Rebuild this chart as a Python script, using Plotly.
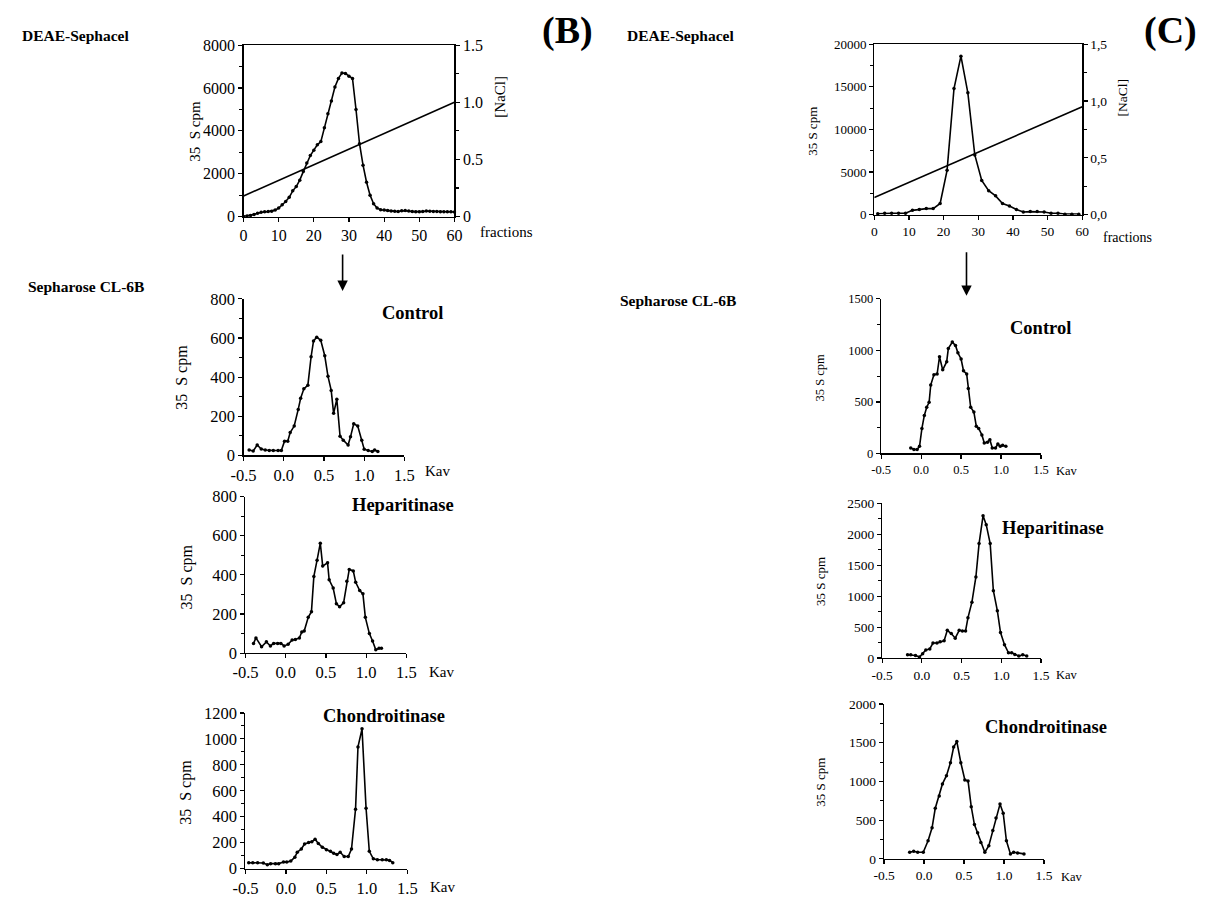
import plotly.graph_objects as go

W, H = 1208, 905
FONT = "Liberation Serif, Times New Roman, Times, serif"

# ---------------- DATA ----------------
# (B) DEAE-Sephacel
b_deae_frac = list(range(0, 61))
b_deae_cpm = [0, 30, 50, 100, 150, 200, 220, 230, 250, 300, 400,
              550, 700, 900, 1200, 1400, 1700, 2100, 2500, 2850, 3100,
              3350, 3500, 4150, 4800, 5400, 6050, 6450, 6700, 6680, 6550,
              6450, 5000, 3400, 2400, 1600, 1000, 600, 400, 320, 300,
              280, 260, 250, 230, 270, 280, 260, 230, 220, 220,
              230, 260, 250, 240, 230, 220, 220, 220, 220, 210]
nacl_frac = [0, 60]
b_nacl = [0.18, 1.0]

# (C) DEAE-Sephacel
c_deae_frac = [1, 3, 5, 7, 9, 11, 13, 15, 17, 19, 21, 23, 25, 27, 29,
               31, 33, 35, 37, 39, 41, 43, 45, 47, 49, 51, 53, 55, 57, 59]
c_deae_cpm = [100, 150, 150, 150, 150, 500, 600, 700, 700, 1300, 5200, 14800, 18600, 14300, 7000,
              4000, 2800, 2200, 1300, 1000, 600, 300, 350, 350, 300, 150, 150, 50, 50, 50]
c_nacl = [0.15, 0.95]

# (B) Sepharose CL-6B
b_ctrl_kav = [-0.43, -0.38, -0.33, -0.28, -0.23, -0.18, -0.13, -0.07, -0.03, 0.01, 0.05, 0.08, 0.13,
              0.18, 0.21, 0.25, 0.30, 0.34, 0.37, 0.41, 0.46, 0.51, 0.55, 0.59, 0.62, 0.66, 0.70,
              0.74, 0.80, 0.83, 0.87, 0.92, 0.97, 1.00, 1.05, 1.10, 1.13, 1.17]
b_ctrl_cpm = [28, 23, 53, 33, 28, 25, 25, 25, 25, 73, 73, 117, 150,
              235, 292, 340, 359, 504, 584, 604, 588, 509, 404, 332, 215, 287, 98,
              78, 53, 95, 162, 150, 77, 32, 25, 20, 28, 20]

b_hep_kav = [-0.40, -0.37, -0.30, -0.24, -0.19, -0.15, -0.10, -0.06, -0.02, 0.03, 0.08, 0.12, 0.17,
             0.20, 0.23, 0.28, 0.32, 0.35, 0.39, 0.43, 0.46, 0.52, 0.54, 0.59, 0.63, 0.67, 0.72,
             0.76, 0.79, 0.84, 0.87, 0.92, 0.96, 0.99, 1.04, 1.08, 1.12, 1.16, 1.19]
b_hep_cpm = [50, 78, 33, 58, 37, 50, 50, 50, 37, 45, 67, 70, 78,
             108, 113, 183, 212, 392, 475, 562, 445, 462, 375, 333, 253, 237, 258,
             367, 428, 420, 362, 320, 303, 183, 100, 62, 17, 25, 25]

b_chon_kav = [-0.46, -0.41, -0.35, -0.28, -0.23, -0.19, -0.13, -0.09, -0.03, 0.01, 0.06, 0.11, 0.14,
              0.19, 0.23, 0.28, 0.32, 0.36, 0.40, 0.45, 0.50, 0.55, 0.59, 0.63, 0.67, 0.72, 0.77,
              0.81, 0.86, 0.89, 0.94, 0.99, 1.03, 1.08, 1.13, 1.19, 1.24, 1.28, 1.32]
b_chon_cpm = [45, 45, 45, 43, 30, 38, 38, 38, 50, 50, 58, 88, 126,
              151, 189, 201, 206, 226, 194, 164, 146, 133, 118, 108, 126, 93, 93,
              151, 458, 938, 1077, 465, 133, 75, 68, 68, 68, 63, 45]

# (C) Sepharose CL-6B
c_ctrl_kav = [-0.13, -0.09, -0.05, -0.02, 0.01, 0.04, 0.07, 0.10, 0.12, 0.16, 0.20, 0.23, 0.27,
              0.32, 0.34, 0.39, 0.43, 0.46, 0.50, 0.53, 0.57, 0.59, 0.62, 0.66, 0.69, 0.72,
              0.76, 0.79, 0.83, 0.86, 0.89, 0.93, 0.96, 0.99, 1.02, 1.06]
c_ctrl_cpm = [54, 38, 38, 69, 243, 369, 448, 496, 663, 764, 770, 938, 811,
              890, 1017, 1080, 1048, 976, 916, 802, 770, 631, 448, 401, 265, 243,
              180, 101, 110, 133, 54, 54, 92, 69, 79, 69]

c_hep_kav = [-0.18, -0.14, -0.08, -0.03, 0.01, 0.05, 0.10, 0.14, 0.19, 0.23, 0.28, 0.32, 0.37,
             0.42, 0.47, 0.51, 0.55, 0.58, 0.63, 0.68, 0.72, 0.77, 0.81, 0.86, 0.90, 0.95,
             0.99, 1.04, 1.09, 1.13, 1.17, 1.22, 1.27, 1.32]
c_hep_cpm = [53, 53, 42, 16, 69, 132, 148, 243, 243, 264, 280, 449, 396,
             322, 449, 439, 439, 650, 904, 1311, 1850, 2299, 2156, 1850, 1089, 766,
             412, 217, 85, 85, 58, 32, 53, 32]

c_chon_kav = [-0.18, -0.13, -0.08, -0.01, 0.05, 0.10, 0.14, 0.19, 0.23, 0.28, 0.33, 0.37, 0.41,
              0.46, 0.51, 0.55, 0.59, 0.63, 0.67, 0.71, 0.76, 0.81, 0.86, 0.90, 0.95, 0.99,
              1.03, 1.08, 1.12, 1.17, 1.25]
c_chon_cpm = [84, 97, 84, 84, 232, 400, 653, 813, 968, 1074, 1242, 1444, 1516,
              1242, 1019, 1006, 674, 442, 337, 211, 84, 168, 366, 526, 707, 589,
              232, 63, 84, 76, 63]

kav_ticks = [-0.5, 0.0, 0.5, 1.0, 1.5]
kav_text = ["-0.5", "0.0", "0.5", "1.0", "1.5"]
frac_ticks = [0, 10, 20, 30, 40, 50, 60]
b_cpm_ticks = [0, 2000, 4000, 6000, 8000]
c_cpm_ticks = [0, 5000, 10000, 15000, 20000]
nacl_ticks = [0, 0.5, 1.0, 1.5]
b_nacl_text = ["0", "0.5", "1.0", "1.5"]
c_nacl_text = ["0,0", "0,5", "1,0", "1,5"]

# ---------------- LAYOUT HELPERS ----------------
def xd(a, b):
    return [a / W, b / W]


def yd(top, bot):
    return [1 - bot / H, 1 - top / H]


def px(x):
    return x / W


def py(y):
    return 1 - y / H


def axis_style(size, **kw):
    d = dict(showline=True, linecolor="black", linewidth=1.3, ticks="outside",
             ticklen=4, tickwidth=1.2, tickcolor="black", showgrid=False,
             zeroline=False, tickfont=dict(family=FONT, size=size, color="black"),
             fixedrange=True)
    d.update(kw)
    return d


fig = go.Figure()
layout = dict(width=W, height=H, margin=dict(l=0, r=0, t=0, b=0),
              paper_bgcolor="white", plot_bgcolor="white", showlegend=False,
              font=dict(family=FONT, color="black"))

line_style = dict(color="black", width=1.6)
marker_style = dict(color="black", size=3.5)


def add_series(xs, ys, n, yref=None, markers=True):
    xr = "x" if n == 1 else f"x{n}"
    yr = yref if yref else ("y" if n == 1 else f"y{n}")
    fig.add_trace(go.Scatter(x=xs, y=ys, xaxis=xr, yaxis=yr,
                             mode="lines+markers" if markers else "lines",
                             line=line_style, marker=marker_style,
                             hoverinfo="skip", cliponaxis=False))


def key(prefix, n):
    return prefix if n == 1 else f"{prefix}{n}"


def minor(dt):
    return dict(dtick=dt, ticks="outside", ticklen=3, tickcolor="black", tick0=0)


# panel 1: B DEAE
layout["xaxis"] = axis_style(16, domain=xd(235, 450), range=[0, 60], tickvals=frac_ticks,
                             anchor="y", mirror=True)
layout["yaxis"] = axis_style(16, domain=yd(37, 212), range=[0, 8000], tickvals=b_cpm_ticks,
                             ticktext=[str(v) for v in b_cpm_ticks], anchor="x", minor=minor(1000))
layout["yaxis9"] = axis_style(16, range=[0, 1.5], tickvals=nacl_ticks, ticktext=b_nacl_text,
                              overlaying="y", side="right", anchor="x", minor=minor(0.25))
add_series(b_deae_frac, b_deae_cpm, 1)
add_series(nacl_frac, b_nacl, 1, yref="y9", markers=False)

# panel 2: C DEAE
layout["xaxis2"] = axis_style(13.5, domain=xd(878, 1090), range=[0, 60], tickvals=frac_ticks,
                              anchor="y2", mirror=True)
layout["yaxis2"] = axis_style(13, domain=yd(36, 210), range=[0, 20000], tickvals=c_cpm_ticks,
                              ticktext=[str(v) for v in c_cpm_ticks], anchor="x2", minor=minor(2500))
layout["yaxis10"] = axis_style(13.5, range=[0, 1.5], tickvals=nacl_ticks, ticktext=c_nacl_text,
                               overlaying="y2", side="right", anchor="x2", minor=minor(0.25))
add_series(c_deae_frac, c_deae_cpm, 2)
add_series(nacl_frac, c_nacl, 2, yref="y10", markers=False)

# Sepharose panels
sep = [
    # n, xdom, ydom(top,bot), ymax, dtick, minor, fontsize, data
    (3, (235, 399), (296, 456), 800, 200, 100, 16.5, b_ctrl_kav, b_ctrl_cpm),
    (4, (237, 401), (498, 658), 800, 200, 100, 16.5, b_hep_kav, b_hep_cpm),
    (5, (237, 402), (719, 878), 1200, 200, 100, 16.5, b_chon_kav, b_chon_cpm),
    (6, (885, 1048), (296, 454), 1500, 500, 250, 12.5, c_ctrl_kav, c_ctrl_cpm),
    (7, (886, 1048), (505, 663), 2500, 500, 250, 13.5, c_hep_kav, c_hep_cpm),
    (8, (888, 1051), (710, 868), 2000, 500, 250, 13.5, c_chon_kav, c_chon_cpm),
]
for n, xdm, ydm, ymax, dt, mn, fs, xs, ys in sep:
    layout[key("xaxis", n)] = axis_style(fs, domain=xd(*xdm), range=[-0.5, 1.5], tickvals=kav_ticks,
                                         ticktext=kav_text, anchor=f"y{n}")
    layout[key("yaxis", n)] = axis_style(fs, domain=yd(*ydm), range=[0, ymax], dtick=dt, tick0=0,
                                         anchor=f"x{n}", minor=minor(mn))
    add_series(xs, ys, n)

# ---------------- ANNOTATIONS ----------------
ann = []


def text(x, y, s, size, bold=False, angle=0):
    ann.append(dict(x=px(x), y=py(y), xref="paper", yref="paper", text=f"<b>{s}</b>" if bold else s,
                    showarrow=False, xanchor="center", yanchor="middle", textangle=angle,
                    font=dict(family=FONT, size=size, color="black")))


text(64, 27, "DEAE-Sephacel", 15.5, bold=True)
text(565, 22, "(B)", 38, bold=True)
text(74, 283, "Sepharose CL-6B", 15.5, bold=True)
text(680, 27, "DEAE-Sephacel", 15.5, bold=True)
text(1180, 22, "(C)", 38, bold=True)
text(678, 298, "Sepharose CL-6B", 15.5, bold=True)

text(503, 228, "fractions", 15)
text(1136, 233, "fractions", 14)
text(497, 90, "[NaCl]", 15, angle=-90)
text(1131, 90, "[NaCl]", 13.5, angle=-90)
text(186, 125, "35  S cpm", 15, angle=-90)
text(815, 125, "35 S cpm", 13, angle=-90)

text(172, 376, "35  S cpm", 16, angle=-90)
text(177, 580, "35  S cpm", 16, angle=-90)
text(177, 800, "35  S cpm", 16, angle=-90)
text(823, 376, "35 S cpm", 12.5, angle=-90)
text(823, 585, "35 S cpm", 13, angle=-90)
text(823, 790, "35 S cpm", 13, angle=-90)

text(433, 472, "Kav", 15)
text(437, 677, "Kav", 15)
text(438, 897, "Kav", 15)
text(1074, 472, "Kav", 12.5)
text(1074, 680, "Kav", 12.5)
text(1080, 887, "Kav", 12.5)

text(407, 311, "Control", 18.5, bold=True)
text(398, 507, "Heparitinase", 18.5, bold=True)
text(378, 722, "Chondroitinase", 18.5, bold=True)
text(1047, 326, "Control", 18.5, bold=True)
text(1060, 530, "Heparitinase", 18.5, bold=True)
text(1053, 733, "Chondroitinase", 18.5, bold=True)

# arrows
for ax_x, tip, tail in [(336, 288, 250), (972, 293, 248)]:
    ann.append(dict(x=px(ax_x), y=py(tip), xref="paper", yref="paper", ax=0, ay=-(tip - tail),
                    axref="pixel", ayref="pixel", showarrow=True, arrowhead=2, arrowsize=1.3,
                    arrowwidth=1.6, arrowcolor="black", text=""))

layout["annotations"] = ann
fig.update_layout(**layout)
fig.write_html("out.html", config={"displayModeBar": False, "staticPlot": True},
               post_script="document.body.style.margin='0';document.body.style.overflow='hidden';")
